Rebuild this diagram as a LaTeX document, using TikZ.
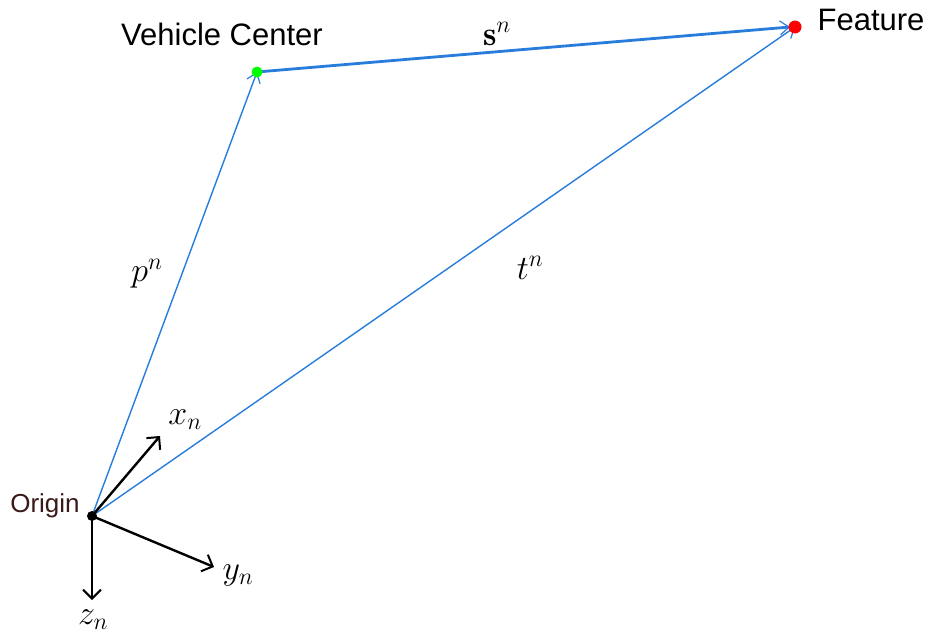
\documentclass[tikz,border=0pt]{standalone}
\usepackage{fix-cm}
\usepackage{fontspec}
\setsansfont{Liberation Sans}
\usetikzlibrary{arrows.meta}
\definecolor{vecblue}{RGB}{40,125,220}
\definecolor{origincol}{RGB}{60,25,25}
\begin{document}
\begin{tikzpicture}[x=1pt,y=-1pt,
  vec/.style={draw=vecblue,line width=1.4pt,-{Straight Barb[length=9pt,width=14pt,line width=1.2pt]}},
  vecthick/.style={draw=vecblue,line width=2.8pt,-{Straight Barb[length=9pt,width=14pt,line width=1.2pt]}},
  axis/.style={draw=black,line width=2.4pt,-{Straight Barb[length=9pt,width=18pt,line width=2pt]}},
  pt/.style={circle,inner sep=0pt,minimum size=#1},
  txt/.style={font=\sffamily\fontsize{31}{36}\selectfont,inner sep=0pt},
  mlab/.style={font=\fontsize{34}{40}\selectfont,inner sep=0pt}]
\useasboundingbox (0,0) rectangle (940,637);
\fill[white] (0,0) rectangle (940,637);
% points
\coordinate (O) at (92,516);
\coordinate (V) at (257,72);
\coordinate (F) at (795,27);
\coordinate (X) at (160,436);
\coordinate (Y) at (214,567);
\coordinate (Z) at (92,600);
% vectors
\draw[vec] (O) -- (V);
\draw[vec] (O) -- (F);
\draw[vecthick] (V) -- ([xshift=-5pt]F);
% axes
\draw[axis] (O) -- (X);
\draw[axis] (O) -- (Y);
\draw[axis] (O) -- (Z);
% dots
\node[pt=11pt,fill=green] (vc) at (V) {};
\node[pt=13pt,fill=red] (ft) at (F) {};
\node[pt=10pt,fill=black] (og) at (O) {};
% labels
\node[txt] (vclab) at (222,34) {Vehicle Center};
\node[txt] (flab) at (871,20) {Feature};
\node[txt,font=\sffamily\fontsize{26}{30}\selectfont,text=origincol] (olab) at (45,506) {Origin};
\node[mlab] (slab) at (497,34) {$\mathbf{s}^n$};
\node[mlab] (plab) at (147,274) {$p^n$};
\node[mlab] (tlab) at (530,268) {$t^n$};
\node[mlab] (xlab) at (185,420) {$x_n$};
\node[mlab] (ylab) at (238,575) {$y_n$};
\node[mlab] (zlab) at (93,620) {$z_n$};
\end{tikzpicture}
\end{document}
